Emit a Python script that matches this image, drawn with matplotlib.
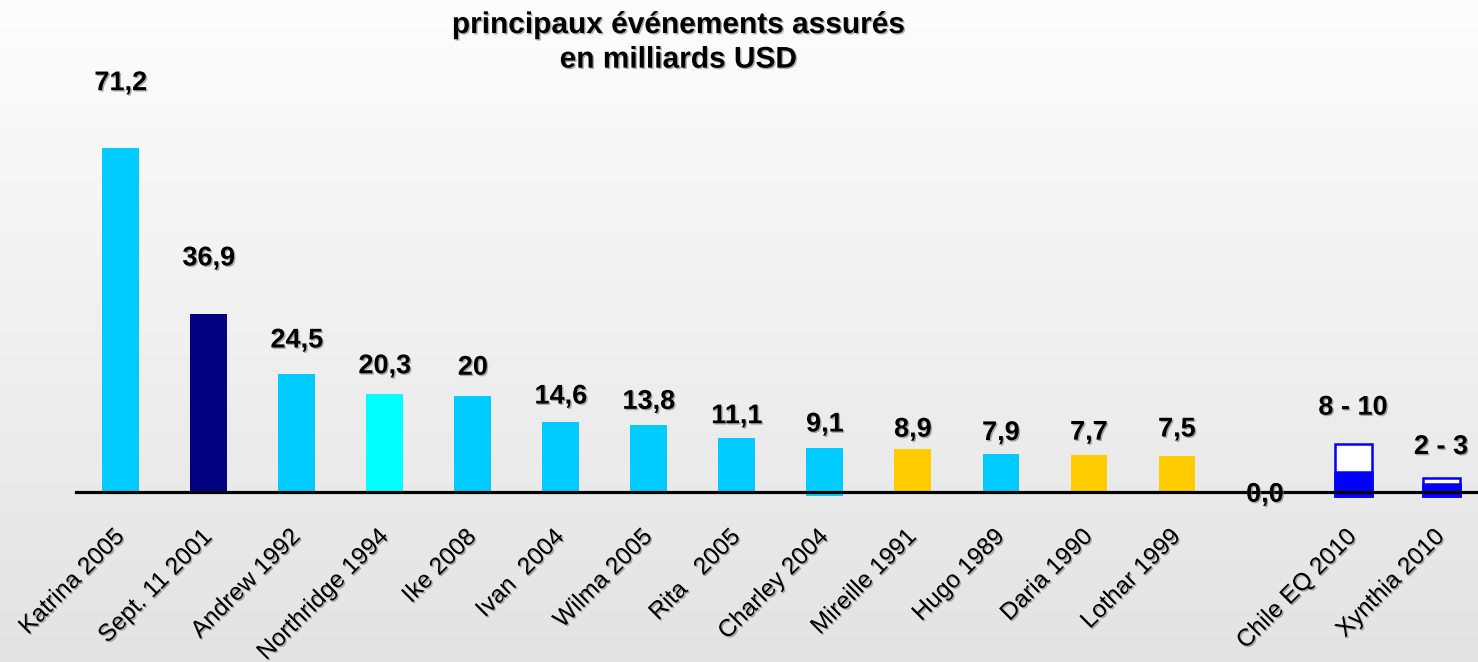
import numpy as np
import matplotlib.pyplot as plt
import matplotlib.patheffects as pe
from matplotlib.colors import LinearSegmentedColormap

plt.rcParams['font.family'] = ['Liberation Sans', 'DejaVu Sans']

# insured losses, billions USD
events = ["Katrina 2005", "Sept. 11 2001", "Andrew 1992", "Northridge 1994",
          "Ike 2008", "Ivan  2004", "Wilma 2005", "Rita   2005", "Charley 2004",
          "Mireille 1991", "Hugo 1989", "Daria 1990", "Lothar 1999", "",
          "Chile EQ 2010", "Xynthia 2010"]
losses = [71.2, 36.9, 24.5, 20.3, 20, 14.6, 13.8, 11.1, 9.1, 8.9, 7.9, 7.7, 7.5, 0.0]
colors = ["#00CCFF", "#000080", "#00CCFF", "#00FFFF", "#00CCFF", "#00CCFF",
          "#00CCFF", "#00CCFF", "#00CCFF", "#FFCC00", "#00CCFF", "#FFCC00",
          "#FFCC00", "#00CCFF"]

# 2010 estimates given as a range
range_low = [8, 2]
range_high = [10, 3]
range_fill = [4.2, 1.6]

# label height above the bar top, in points
label_gap = [47, 40, 24, 20, 20, 18, 17, 16, 17, 14, 15, 16, 19, -2]
range_gap = [26, 22]

def fmt(v):
    return ('%g' % v if v else '0.0').replace('.', ',')

fig = plt.figure(figsize=(14.78, 6.62), dpi=100)

# soft grey backdrop
bg = fig.add_axes([0, 0, 1, 1], zorder=-1)
grad = np.linspace(0, 1, 256).reshape(-1, 1)
bg.imshow(grad, aspect='auto', extent=[0, 1, 0, 1],
          cmap=LinearSegmentedColormap.from_list('bg', ['#fdfdfd', '#e3e3e3']))
bg.axis('off')

ax = fig.add_axes([76 / 1478, 1 - 492 / 662, 1 - 76 / 1478, 386 / 662])
ax.patch.set_alpha(0)

x = np.arange(len(events))
n = len(losses)
bottoms = [0] * n
bottoms[8] = -0.8
heights = [v - b for v, b in zip(losses, bottoms)]
ax.bar(x[:n], heights, bottom=bottoms, width=0.42, color=colors, zorder=2, clip_on=False)

shadow = [pe.withSimplePatchShadow(offset=(1, -1), shadow_rgbFace='#777777', alpha=0.6)]

for i, v in enumerate(losses):
    ax.annotate(fmt(v), (x[i], v), xytext=(0, label_gap[i]), textcoords='offset points',
                ha='center', va='center', fontsize=19.5, fontweight='bold',
                annotation_clip=False, path_effects=shadow, zorder=4)

# range bars: outlined box to the upper estimate, solid part at the bottom
for j in range(len(range_low)):
    xi = x[n + j]
    ax.bar(xi, range_high[j] + 0.8, bottom=-0.8, width=0.42, color='white',
           edgecolor='#0000FF', linewidth=1.8, zorder=2, clip_on=False)
    ax.bar(xi, range_fill[j] + 0.8, bottom=-0.8, width=0.42, color='#0000FF',
           edgecolor='#0000FF', linewidth=1.8, zorder=2, clip_on=False)
    ax.annotate('%d - %d' % (range_low[j], range_high[j]), (xi, range_high[j]),
                xytext=(0, range_gap[j]), textcoords='offset points',
                ha='center', va='center', fontsize=19.5, fontweight='bold',
                annotation_clip=False, path_effects=shadow, zorder=4)

ax.axhline(0, color='black', linewidth=2.3, zorder=3, clip_on=False)

ax.set_xlim(-0.51, 15.42)
ax.set_ylim(0, 80)
for s in ['top', 'right', 'left', 'bottom']:
    ax.spines[s].set_visible(False)
ax.set_yticks([])
ax.set_xticks(x, events, rotation=45, ha='right', va='center', rotation_mode='anchor')
ax.tick_params(axis='x', length=0, pad=30, labelsize=17.5)
for t in ax.get_xticklabels():
    t.set_path_effects(shadow)

fig.text(0.459, 1 - 11 / 662, 'principaux événements assurés\nen milliards USD',
         ha='center', va='top', fontsize=21.5, fontweight='bold',
         linespacing=1.3, path_effects=shadow)

fig.savefig('out.png', dpi=100)
